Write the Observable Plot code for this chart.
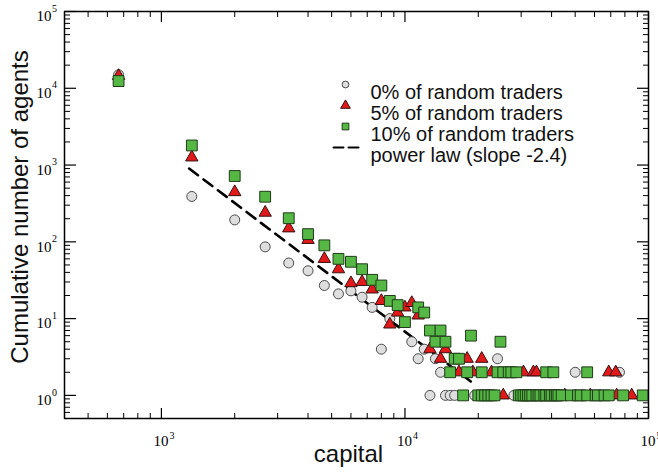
<!DOCTYPE html>
<html>
<head>
<meta charset="utf-8">
<script src="https://cdn.jsdelivr.net/npm/d3@7"></script>
<script src="https://cdn.jsdelivr.net/npm/@observablehq/plot@0.6"></script>
<style>
  body { margin: 0; background: #fff; }
  #chart { width: 658px; height: 476px; position: relative; }
  #ytitle { position: absolute; left: 20px; top: 207px; font: 24px "Liberation Sans", Arial, sans-serif; color: #111;
    white-space: nowrap; transform: translate(-50%, -50%) rotate(-90deg); z-index: 2; }
</style>
</head>
<body>
<div id="chart"><div id="ytitle">Cumulative number of agents</div></div>
<script>
// 0% of random traders (circles)
const capital0 = [667, 1333, 2000, 2667, 3333, 4000, 4667, 5333, 6000, 6667, 7333, 8000, 8667,
  10667, 11333, 12000, 13333, 14000, 24000, 50000, 76000,
  12667, 14667, 15333, 16000, 19333, 28000];
const agents0 = [15000, 390, 193, 86, 53, 42, 27, 21, 23, 19, 14, 4, 10,
  5, 3, 4, 3, 2, 3, 2, 2,
  1, 1, 1, 1, 1, 1];

// 5% of random traders (triangles)
const capital5 = [667, 1333, 2000, 2667, 3333, 4000, 4667, 5333, 6000, 6667, 7333, 8000, 8667,
  9333, 10000, 10667, 11333, 12667, 14000, 14667, 18000, 20667,
  16667, 19000, 22667, 30667, 33667, 34667, 68667, 73333,
  25333, 45333, 57667, 74000, 85333];
const agents5 = [14500, 1260, 445, 240, 150, 106, 60, 44, 29, 30, 24, 17, 8.4,
  12, 14, 16, 11, 4, 3, 4, 3, 3,
  2, 2, 2, 2, 2, 2, 2, 2,
  1, 1, 1, 1, 1];

// 10% of random traders (squares)
const capital10 = [667, 1333, 2000, 2667, 3333, 4000, 4667, 5333, 6000, 6667, 7333, 8000, 8667,
  9333, 10000, 11333, 12000, 12667, 13333, 14000, 14667, 16000, 16667, 18667, 24667,
  15333, 18000, 20667, 24000, 25333, 26667, 27333, 28667, 38000, 40667, 56000,
  17333, 20000, 20667, 21333, 22000, 22667, 23333, 29333, 30000, 30667, 31333, 32000,
  32667, 33333, 34667, 35333, 36000, 37333, 38000, 39333, 40000, 41333, 42000, 42667,
  44000, 48000, 51333, 52667, 56000, 60667, 62000, 66000, 68667, 78667, 94667];
const agents10 = [12400, 1800, 720, 387, 203, 126, 90, 60, 55, 44, 32, 27, 17,
  15, 9, 14, 12, 7, 5, 7, 5, 3, 3, 6, 5,
  2, 2, 2, 2, 2, 2, 2, 2, 2, 2, 2,
  1, 1, 1, 1, 1, 1, 1, 1, 1, 1, 1, 1,
  1, 1, 1, 1, 1, 1, 1, 1, 1, 1, 1, 1,
  1, 1, 1, 1, 1, 1, 1, 1, 1, 1, 1];

// Power-law guide, slope -2.4
const powerCapital = [1300, 19000];
const powerAgents = [900, 1.45];

// Axis ticks
const majorX = [1e3, 1e4, 1e5];
const majorXExp = ["3", "4", "5"];
const majorY = [1e0, 1e1, 1e2, 1e3, 1e4, 1e5];
const majorYExp = ["0", "1", "2", "3", "4", "5"];

// Legend entries
const legendLabels = ["0% of random traders", "5% of random traders", "10% of random traders", "power law (slope -2.4)"];

const pairs = (xs, ys) => xs.map((x, i) => ({capital: x, agents: ys[i]}));
const set0 = pairs(capital0, agents0);
const set5 = pairs(capital5, agents5);
const set10 = pairs(capital10, agents10);
const power = pairs(powerCapital, powerAgents);

const xDomain = [400, 1e5];
const yDomain = [0.5, 1e5];

const minorX = [];
for (const base of [100, 1000, 10000]) for (let m = 2; m <= 9; ++m) {
  const v = base * m;
  if (v >= xDomain[0] && v <= xDomain[1]) minorX.push(v);
}
const minorY = [];
for (const base of [0.1, 1, 10, 100, 1000, 10000]) for (let m = 2; m <= 9; ++m) {
  const v = base * m;
  if (v >= yDomain[0] && v <= yDomain[1]) minorY.push(v);
}

// box outline through the corners of the domain
const [x0, x1] = xDomain, [y0, y1] = yDomain;
const box = [[x0, y0], [x1, y0], [x1, y1], [x0, y1], [x0, y0]];

const serif = "Liberation Serif, Times New Roman, serif";
const sans = "Liberation Sans, Arial, Helvetica, sans-serif";

const circleStyle = {fill: "#dedede", stroke: "#4a4a4a", strokeWidth: 1};
const triStyle = {fill: "#e01a1a", stroke: "#3a1010", strokeWidth: 1};
const squareStyle = {fill: "#55b845", stroke: "#1f3a18", strokeWidth: 1};

const noText = () => "";

const legendMarks = [];
const legendSymbols = [
  {symbol: "circle", r: 3.4, ...circleStyle},
  {symbol: "triangle", r: 3.6, ...triStyle},
  {symbol: "square", r: 3.8, ...squareStyle}
];
legendLabels.forEach((label, i) => {
  const dy = 73 + i * 21;
  if (i < 3) {
    legendMarks.push(Plot.dot([label], {frameAnchor: "top-left", dx: 281, dy, ...legendSymbols[i]}));
  } else {
    legendMarks.push(Plot.vector([label], {
      frameAnchor: "top-left", dx: 269, dy, rotate: 90, length: 25, anchor: "start",
      stroke: "#000", strokeWidth: 2, strokeDasharray: "10,5",
      shape: {draw(context, l) { context.moveTo(0, 0); context.lineTo(0, -l); }}
    }));
  }
  legendMarks.push(Plot.text([label], {
    frameAnchor: "top-left", dx: 306, dy, text: d => d, textAnchor: "start",
    fontSize: 20, fontFamily: sans, fill: "#111"
  }));
});

const chart = Plot.plot({
  width: 658,
  height: 476,
  marginLeft: 64,
  marginRight: 10,
  marginTop: 11,
  marginBottom: 58,
  style: {background: "#fff", fontFamily: serif, color: "#000"},
  x: {type: "log", domain: xDomain},
  y: {type: "log", domain: yDomain},
  marks: [
    // inward ticks on all four sides
    Plot.axisX(majorX, {anchor: "bottom", tickSize: -10, tickFormat: noText, label: null, strokeWidth: 1.2}),
    Plot.axisX(minorX, {anchor: "bottom", tickSize: -5, tickFormat: noText, label: null, strokeWidth: 1}),
    Plot.axisX(majorX, {anchor: "top", tickSize: -10, tickFormat: noText, label: null, strokeWidth: 1.2}),
    Plot.axisX(minorX, {anchor: "top", tickSize: -5, tickFormat: noText, label: null, strokeWidth: 1}),
    Plot.axisY(majorY, {anchor: "left", tickSize: -12, tickFormat: noText, label: null, strokeWidth: 1.2}),
    Plot.axisY(minorY, {anchor: "left", tickSize: -6, tickFormat: noText, label: null, strokeWidth: 1}),
    Plot.axisY(majorY, {anchor: "right", tickSize: -12, tickFormat: noText, label: null, strokeWidth: 1.2}),
    Plot.axisY(minorY, {anchor: "right", tickSize: -6, tickFormat: noText, label: null, strokeWidth: 1}),

    // tick labels as 10 with a raised exponent
    Plot.text(majorX, {x: d => d, frameAnchor: "bottom", text: () => "10", dy: 27, dx: 7, textAnchor: "end", fontSize: 15, fontFamily: serif}),
    Plot.text(majorX, {x: d => d, frameAnchor: "bottom", text: (d, i) => majorXExp[i], dy: 20, dx: 8, textAnchor: "start", fontSize: 10, fontFamily: serif}),
    Plot.text(majorY, {y: d => d, frameAnchor: "left", text: () => "10", dy: 5, dx: -13, textAnchor: "end", fontSize: 15, fontFamily: serif}),
    Plot.text(majorY, {y: d => d, frameAnchor: "left", text: (d, i) => majorYExp[i], dy: -3, dx: -12.5, textAnchor: "start", fontSize: 10, fontFamily: serif}),

    // x axis title
    Plot.text(["capital"], {frameAnchor: "bottom", text: d => d, dy: 43, dx: -8, fontSize: 24, fontFamily: sans, fill: "#111"}),

    // power law guide
    Plot.line(power, {x: "capital", y: "agents", stroke: "#000", strokeWidth: 2.6, strokeDasharray: "11,7"}),

    // data sets
    Plot.dot(set0, {x: "capital", y: "agents", symbol: "circle", r: 5, ...circleStyle}),
    Plot.dot(set5, {x: "capital", y: "agents", symbol: "triangle", r: 4.6, ...triStyle}),
    Plot.dot(set10, {x: "capital", y: "agents", symbol: "square", r: 6.1, ...squareStyle}),

    ...legendMarks,

    // plot box
    Plot.line(box, {x: d => d[0], y: d => d[1], stroke: "#000", strokeWidth: 1.5})
  ]
});

document.getElementById("chart").appendChild(chart);
</script>
</body>
</html>
